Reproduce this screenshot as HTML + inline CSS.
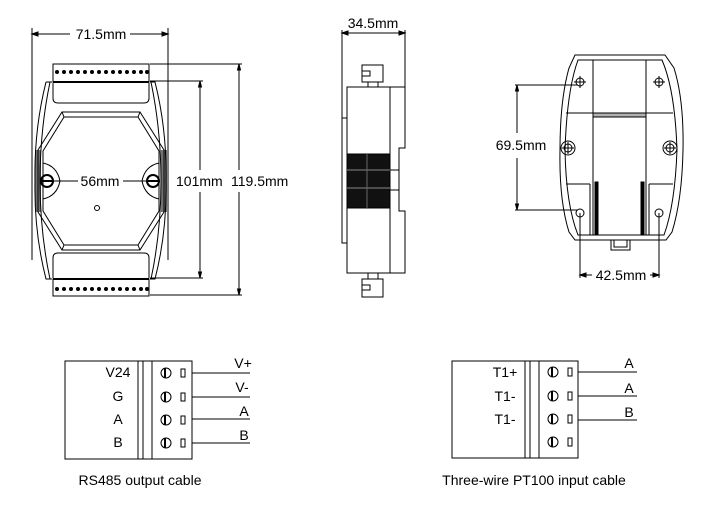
<!DOCTYPE html>
<html><head><meta charset="utf-8"><style>
body{margin:0;background:#fff;width:720px;height:519px;overflow:hidden}
svg{display:block}
text{font-family:"Liberation Sans",Arial,sans-serif;fill:#000}
</style></head><body>
<svg width="720" height="519" viewBox="0 0 720 519" fill="none" stroke="#000" stroke-width="1">
<!-- ===== FRONT VIEW ===== -->
<line x1="32" y1="34" x2="70" y2="34"/><line x1="130" y1="34" x2="168" y2="34"/>
<path d="M32 34 l6 -2 v4z M168 34 l-6 -2 v4z" fill="#000"/>
<text x="101" y="39" font-size="14" text-anchor="middle" stroke="none">71.5mm</text>
<line x1="32" y1="28" x2="32" y2="260"/><line x1="168" y1="28" x2="168" y2="260"/>
<path d="M46 82 Q34 130 35 181 Q34 232 46 279 L52 279 M46 82 L52 82 M150 82 L155 82 Q167 130 166 181 Q167 232 155 279 L150 279"/>
<path d="M50 82 Q40 130 40 181 Q40 232 50 279 M151 82 Q161 130 161 181 Q161 232 151 279"/>
<rect x="53" y="64" width="96" height="18"/>
<line x1="53" y1="82" x2="149" y2="82" stroke-width="2"/>
<rect x="53" y="279" width="96" height="17"/>
<line x1="53" y1="279" x2="149" y2="279" stroke-width="2"/>
<g fill="#000" stroke="none">
<circle cx="57" cy="72" r="2"/><circle cx="64" cy="72" r="2"/><circle cx="71" cy="72" r="2"/><circle cx="78" cy="72" r="2"/><circle cx="85" cy="72" r="2"/><circle cx="92" cy="72" r="2"/><circle cx="99" cy="72" r="2"/><circle cx="106" cy="72" r="2"/><circle cx="113" cy="72" r="2"/><circle cx="120" cy="72" r="2"/><circle cx="127" cy="72" r="2"/><circle cx="134" cy="72" r="2"/><circle cx="141" cy="72" r="2"/><circle cx="147" cy="72" r="2"/>
<circle cx="57" cy="289" r="2"/><circle cx="64" cy="289" r="2"/><circle cx="71" cy="289" r="2"/><circle cx="78" cy="289" r="2"/><circle cx="85" cy="289" r="2"/><circle cx="92" cy="289" r="2"/><circle cx="99" cy="289" r="2"/><circle cx="106" cy="289" r="2"/><circle cx="113" cy="289" r="2"/><circle cx="120" cy="289" r="2"/><circle cx="127" cy="289" r="2"/><circle cx="134" cy="289" r="2"/><circle cx="141" cy="289" r="2"/><circle cx="147" cy="289" r="2"/>
</g>
<path d="M53 83 V98 Q53 103 58 103 H144 Q149 103 149 98 V83"/>
<path d="M53 278 V258 Q53 253 58 253 H144 Q149 253 149 258 V278"/>
<path d="M62 112 H140 L164 150 V212 L140 250 H62 L38 212 V150 Z"/>
<path d="M64 117 H138 L159 151 V211 L138 245 H64 L43 211 V151 Z"/>
<path d="M62 112 L64 117 M140 112 L138 117 M62 250 L64 245 M140 250 L138 245"/>
<rect x="35" y="150" width="6" height="62" fill="#000" opacity="0.55" stroke="none"/>
<rect x="161" y="150" width="6" height="62" fill="#000" opacity="0.55" stroke="none"/>
<path d="M43 163 Q57 166 60 181 Q57 196 43 199"/>
<path d="M159 163 Q145 166 142 181 Q145 196 159 199"/>
<circle cx="47" cy="181" r="6" stroke-width="2"/><line x1="41" y1="181" x2="53" y2="181" stroke-width="2"/>
<circle cx="153" cy="181" r="6" stroke-width="2"/><line x1="147" y1="181" x2="159" y2="181" stroke-width="2"/>
<line x1="53" y1="181" x2="78" y2="181"/><line x1="123" y1="181" x2="147" y2="181"/>
<text x="100" y="186" font-size="14" text-anchor="middle" stroke="none">56mm</text>
<circle cx="97" cy="208" r="2.5"/>
<line x1="150" y1="81" x2="203" y2="81"/><line x1="150" y1="278" x2="203" y2="278"/>
<line x1="200" y1="81" x2="200" y2="170"/><line x1="200" y1="192" x2="200" y2="278"/>
<line x1="150" y1="64" x2="242" y2="64"/><line x1="150" y1="295" x2="242" y2="295"/>
<line x1="239" y1="64" x2="239" y2="170"/><line x1="239" y1="192" x2="239" y2="295"/>
<path d="M200 81 l-1.5 6 h3z M200 278 l-1.5 -6 h3z M239 64 l-1.5 6 h3z M239 295 l-1.5 -6 h3z" fill="#000"/>
<text x="176" y="186" font-size="14" stroke="none">101mm</text>
<text x="231" y="186" font-size="14" stroke="none">119.5mm</text>

<!-- ===== SIDE VIEW ===== -->
<line x1="342" y1="33" x2="405" y2="33"/>
<path d="M342 33 l6 -2 v4z M405 33 l-6 -2 v4z" fill="#000"/>
<text x="373" y="28" font-size="14" text-anchor="middle" stroke="none">34.5mm</text>
<line x1="342" y1="30" x2="342" y2="118"/><line x1="405" y1="30" x2="405" y2="87"/>
<rect x="347" y="87" width="43" height="186"/>
<path d="M390 87 H405 V148 H399 V211 H405 V273 H390"/>
<path d="M390 170 H399 M390 190 H399"/>
<path d="M347 118 H342 V243 H347"/>
<rect x="347" y="154" width="43" height="54" fill="#111"/>
<line x1="347" y1="170" x2="390" y2="170" stroke="#888"/><line x1="347" y1="188" x2="390" y2="188" stroke="#888"/>
<line x1="367" y1="154" x2="367" y2="208" stroke="#666"/>
<path d="M362 65 H383 V82 H362 Z M362 71 H370 V76 H362 M368 82 V87 M378 82 V87"/>
<path d="M362 279 H383 V297 H362 Z M362 285 H370 V290 H362 M368 273 V279 M378 273 V279"/>

<!-- ===== BACK VIEW ===== -->
<path d="M575 55 H665 L674 68 Q684 100 683 150 Q682 200 672 232 L666 240 H575 L569 232 Q559 200 560 150 Q560 100 569 68 Z"/>
<path d="M578 60 H662 Q675 90 677 150 Q675 205 664 235 H578 Q566 205 565 150 Q567 90 578 60 Z"/>
<path d="M593 60 V235 M646 60 V235 M593 60 H646"/>
<path d="M593 113 H646 M593 117 H646" /><rect x="593" y="113" width="53" height="4" fill="#000" opacity="0.3"/>
<path d="M566 113 H593 M646 113 H673 M566 184 H590 M649 184 H673 M590 184 V235 M649 184 V235"/>
<rect x="595" y="182" width="3" height="53" fill="#000"/><rect x="641" y="182" width="3" height="53" fill="#000"/>
<path d="M611 240 V250 H630 V240 M614 240 V247 H627 V240"/>
<g>
<circle cx="580" cy="82" r="4"/><circle cx="659" cy="82" r="4"/>
<circle cx="568" cy="148" r="4"/><circle cx="670" cy="148" r="4"/>
<circle cx="568" cy="148" r="7"/><circle cx="670" cy="148" r="7"/>
<circle cx="580" cy="213" r="4"/><circle cx="659" cy="213" r="4"/>
<path d="M580 76 V88 M574 82 H586 M659 76 V88 M653 82 H665 M568 142 V154 M562 148 H574 M670 142 V154 M664 148 H676"/>
</g>
<line x1="515" y1="85" x2="578" y2="85"/><line x1="515" y1="210" x2="578" y2="210"/>
<line x1="517" y1="85" x2="517" y2="133"/><line x1="517" y1="158" x2="517" y2="210"/>
<path d="M517 85 l-1.5 6 h3z M517 210 l-1.5 -6 h3z" fill="#000"/>
<text x="521" y="150" font-size="14" text-anchor="middle" stroke="none">69.5mm</text>
<line x1="580" y1="213" x2="580" y2="278"/><line x1="659" y1="213" x2="659" y2="278"/>
<line x1="580" y1="275" x2="592" y2="275"/><line x1="650" y1="275" x2="659" y2="275"/>
<path d="M580 275 l6 -2 v4z M659 275 l-6 -2 v4z" fill="#000"/>
<text x="621" y="280" font-size="14" text-anchor="middle" stroke="none">42.5mm</text>

<!-- ===== RS485 ===== -->
<rect x="65" y="361" width="127" height="98"/>
<line x1="138" y1="361" x2="138" y2="459"/><line x1="143" y1="361" x2="143" y2="459"/><line x1="152" y1="361" x2="152" y2="459"/>
<g font-size="14" stroke="none">
<text x="118" y="377" text-anchor="middle">V24</text>
<text x="118" y="401" text-anchor="middle">G</text>
<text x="118" y="424" text-anchor="middle">A</text>
<text x="118" y="447" text-anchor="middle">B</text>
<text x="243" y="368" text-anchor="middle">V+</text>
<text x="242" y="392" text-anchor="middle">V-</text>
<text x="244" y="416" text-anchor="middle">A</text>
<text x="244" y="440" text-anchor="middle">B</text>
<text x="140" y="485" text-anchor="middle">RS485 output cable</text>
</g>
<g id="sc">
<circle cx="166" cy="373" r="5"/><line x1="165" y1="368" x2="165" y2="378" stroke-width="2"/><rect x="181" y="369" width="4" height="8"/>
<circle cx="166" cy="397" r="5"/><line x1="165" y1="392" x2="165" y2="402" stroke-width="2"/><rect x="181" y="393" width="4" height="8"/>
<circle cx="166" cy="420" r="5"/><line x1="165" y1="415" x2="165" y2="425" stroke-width="2"/><rect x="181" y="416" width="4" height="8"/>
<circle cx="166" cy="443" r="5"/><line x1="165" y1="438" x2="165" y2="448" stroke-width="2"/><rect x="181" y="439" width="4" height="8"/>
</g>
<line x1="192" y1="373" x2="250" y2="373"/><line x1="192" y1="397" x2="250" y2="397"/><line x1="192" y1="419" x2="250" y2="419"/><line x1="192" y1="443" x2="250" y2="443"/>

<!-- ===== PT100 ===== -->
<rect x="452" y="361" width="126" height="97"/>
<line x1="525" y1="361" x2="525" y2="458"/><line x1="530" y1="361" x2="530" y2="458"/><line x1="539" y1="361" x2="539" y2="458"/>
<g font-size="14" stroke="none">
<text x="505" y="377" text-anchor="middle">T1+</text>
<text x="505" y="401" text-anchor="middle">T1-</text>
<text x="505" y="424" text-anchor="middle">T1-</text>
<text x="629" y="368" text-anchor="middle">A</text>
<text x="629" y="393" text-anchor="middle">A</text>
<text x="629" y="417" text-anchor="middle">B</text>
<text x="534" y="485" text-anchor="middle">Three-wire PT100 input cable</text>
</g>
<use href="#sc" x="387" y="-1"/>
<line x1="578" y1="372" x2="637" y2="372"/><line x1="578" y1="396" x2="637" y2="396"/><line x1="578" y1="420" x2="637" y2="420"/>
</svg>
</body></html>
